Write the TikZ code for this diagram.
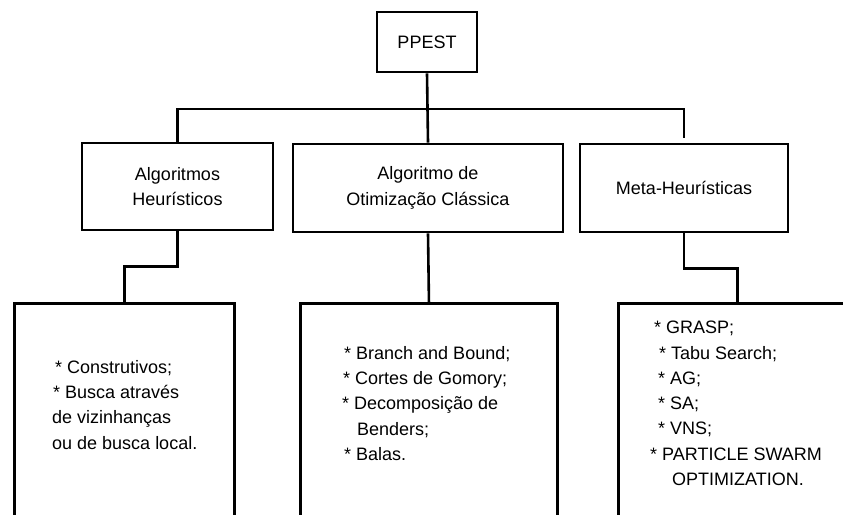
\documentclass[tikz,border=0pt]{standalone}
\usepackage{fontspec}
\setmainfont{Liberation Sans}
\usepackage{tikz}

\begin{document}
\begin{tikzpicture}[x=1pt, y=-1pt,
    every node/.style={font=\fontsize{18}{25.3}\selectfont},
    box/.style={draw, line width=2.9pt, rectangle, align=center, inner sep=0pt},
    list/.style={anchor=north west, align=left, inner sep=0pt},
    link/.style={line width=2.6pt}]
  \useasboundingbox (0,0) rectangle (843,514);
  \clip (0,0) rectangle (843,514);

  \node[box, minimum width=100pt, minimum height=60pt] (ppest) at (427,42) {PPEST};

  \node[box, minimum width=191pt, minimum height=87pt] (ah) at (177.5,186.5) {Algoritmos\\Heurísticos};
  \node[box, minimum width=270pt, minimum height=88pt] (aoc) at (428,188) {Algoritmo de\\Otimização Clássica};
  \node[box, minimum width=208pt, minimum height=88pt] (mh) at (684,188) {Meta-Heurísticas};

  \node[box, minimum width=220pt, minimum height=240pt, anchor=north west] (ah-l) at (13,302) {};
  \node[box, minimum width=257pt, minimum height=240pt, anchor=north west] (aoc-l) at (299,302) {};
  \node[box, minimum width=238pt, minimum height=240pt, anchor=north west] (mh-l) at (617,302) {};

  \node[list] (ah-t) at (52,360)
    {\hspace*{3pt}* Construtivos;\\\hspace*{1pt}* Busca através\\de vizinhanças\\ou de busca local.};
  \node[list] (aoc-t) at (342,346)
    {\hspace*{2pt}* Branch and Bound;\\\hspace*{1pt}* Cortes de Gomory;\\* Decomposição de\\\hspace*{15pt}Benders;\\\hspace*{2pt}* Balas.};
  \node[list] (mh-t) at (650,321)
    {\hspace*{4pt}* GRASP;\\\hspace*{9pt}* Tabu Search;\\\hspace*{8pt}* AG;\\\hspace*{8pt}* SA;\\\hspace*{8pt}* VNS;\\* PARTICLE SWARM\\\hspace*{22pt}OPTIMIZATION.};

  \coordinate (bus) at (427,109);
  \draw[link] (ppest.south) -- (aoc.north);
  \draw[link] (ah.north) |- (bus) -| ([yshift=5pt]mh.north);

  \draw[link] (ah.south) -- ++(0,35) -| (ah-l.north);
  \draw[link] (aoc.south) -- (aoc-l.north);
  \draw[link] (mh.south) -- ++(0,35) -| (mh-l.north);
\end{tikzpicture}
\end{document}
